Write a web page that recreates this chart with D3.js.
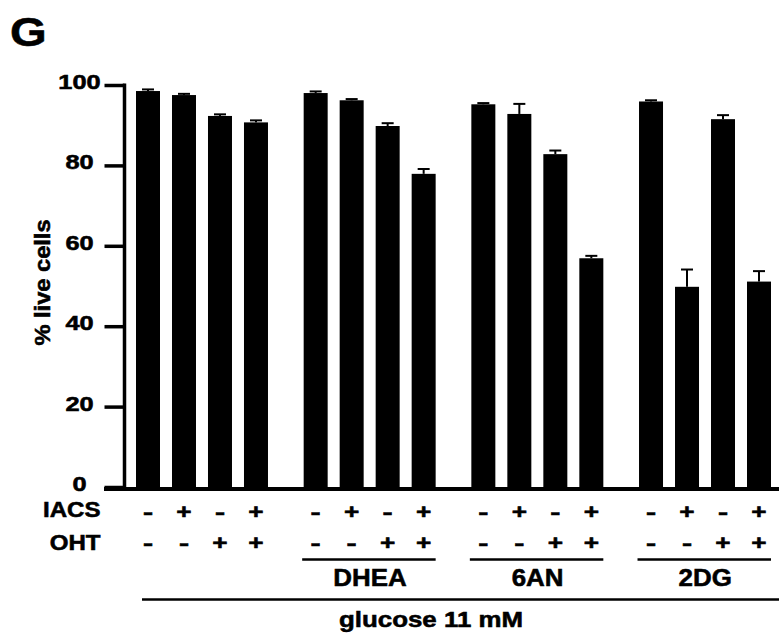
<!DOCTYPE html>
<html>
<head>
<meta charset="utf-8">
<script src="https://cdn.jsdelivr.net/npm/d3@7"></script>
<style>
  html, body { margin: 0; padding: 0; background: #fff; }
  svg { display: block; }
  text { font-family: 'Liberation Sans', Arial, Helvetica, sans-serif; font-weight: bold; fill: #000; stroke: #000; stroke-width: 0.55px; }
</style>
</head>
<body>
<svg id="chart" width="779" height="636"></svg>
<script>
// ---- data ----
const groups = ["none", "DHEA", "6AN", "2DG"];
const groupLabels = ["", "DHEA", "6AN", "2DG"];
const conditions = ["c1", "c2", "c3", "c4"];
const iacsSigns = ["-", "+", "-", "+"];
const ohtSigns = ["-", "-", "+", "+"];
const meansNone = [98.5, 97.5, 92.3, 90.7];
const meansDHEA = [98.0, 96.2, 89.8, 77.9];
const means6AN = [95.2, 92.8, 82.8, 56.9];
const means2DG = [95.9, 49.8, 91.5, 51.1];
const errNone = [0.4, 0.3, 0.4, 0.5];
const errDHEA = [0.4, 0.3, 0.7, 1.2];
const err6AN = [0.3, 2.5, 0.9, 0.6];
const err2DG = [0.3, 4.3, 1.0, 2.6];
const yTicks = [0, 20, 40, 60, 80, 100];
const yLabel = "% live cells";
const panelLabel = "G";
const footLabel = "glucose 11 mM";

const meansByGroup = [meansNone, meansDHEA, means6AN, means2DG];
const errByGroup = [errNone, errDHEA, err6AN, err2DG];
const rows = [];
groups.forEach((g, gi) => conditions.forEach((c, ci) => {
  rows.push({ g, c, gi, ci, v: meansByGroup[gi][ci], e: errByGroup[gi][ci] });
}));

// ---- scales ----
const svg = d3.select("#chart");
const W = 779;
const x0 = d3.scaleBand().domain(groups).range([130, 777]).paddingInner(0.1413).paddingOuter(0);
const x1 = d3.scaleBand().domain(conditions).range([0, x0.bandwidth()]).paddingInner(1 / 3).paddingOuter(1 / 6);
const y = d3.scaleLinear().domain([0, 100]).range([487, 85]);
const cx = d => x0(d.g) + x1(d.c) + x1.bandwidth() / 2;

function txt(x, yy, s, size, anchor, sx, rot) {
  return svg.append("text")
    .attr("transform", `translate(${x},${yy})` + (rot ? ` rotate(${rot})` : "") + ` scale(${sx},1)`)
    .attr("text-anchor", anchor)
    .style("font-size", size + "px")
    .text(s);
}

// ---- bars ----
svg.append("g").selectAll("rect").data(rows).join("rect")
  .attr("x", d => x0(d.g) + x1(d.c))
  .attr("width", x1.bandwidth())
  .attr("y", d => y(d.v))
  .attr("height", d => y(0) - y(d.v))
  .attr("fill", "#000");

// ---- error bars ----
const eb = svg.append("g").attr("stroke", "#000").attr("stroke-width", 2);
eb.selectAll("line.stem").data(rows).join("line").attr("class", "stem")
  .attr("x1", cx).attr("x2", cx)
  .attr("y1", d => y(d.v)).attr("y2", d => y(d.v + d.e));
eb.selectAll("line.cap").data(rows).join("line").attr("class", "cap")
  .attr("x1", d => cx(d) - 6).attr("x2", d => cx(d) + 6)
  .attr("y1", d => y(d.v + d.e)).attr("y2", d => y(d.v + d.e));

// ---- y axis ----
const yAxis = svg.append("g").attr("transform", "translate(124.5,0)")
  .call(d3.axisLeft(y).tickValues(yTicks).tickSize(20).tickFormat(""));
yAxis.select(".domain").remove();
yAxis.selectAll(".tick line").attr("stroke", "#000").attr("stroke-width", 3.5);
svg.append("line").attr("x1", 124.5).attr("x2", 124.5)
  .attr("y1", y(100) - 1.5).attr("y2", 491)
  .attr("stroke", "#000").attr("stroke-width", 3.5);
yTicks.forEach(t => txt(79.5, y(t) + 4, String(t), 19.5, "middle", 1.3));

// ---- x axis baseline ----
svg.append("line").attr("x1", 104).attr("x2", W)
  .attr("y1", 489).attr("y2", 489)
  .attr("stroke", "#000").attr("stroke-width", 4);

// ---- treatment rows ----
txt(100.5, 517, "IACS", 21.5, "end", 1.12);
txt(100.5, 550, "OHT", 21.5, "end", 1.12);
rows.forEach(d => {
  txt(cx(d), 519, iacsSigns[d.ci], 21, "middle", iacsSigns[d.ci] === "-" ? 1.45 : 1.25);
  txt(cx(d), 550, ohtSigns[d.ci], 21, "middle", ohtSigns[d.ci] === "-" ? 1.45 : 1.25);
});

// ---- group brackets ----
groups.forEach((g, gi) => {
  if (!groupLabels[gi]) return;
  const a = x0(g) + x1(conditions[0]) - 1.5;
  const b = x0(g) + x1(conditions[3]) + x1.bandwidth();
  svg.append("line").attr("x1", a).attr("x2", b).attr("y1", 559.5).attr("y2", 559.5)
    .attr("stroke", "#000").attr("stroke-width", 2.5);
  txt((a + b) / 2 + 1, 586, groupLabels[gi], 24, "middle", 1.08);
});

// ---- glucose bracket ----
const gStart = x0(groups[0]) + x1(conditions[0]) + 6;
svg.append("line").attr("x1", gStart).attr("x2", W).attr("y1", 599.5).attr("y2", 599.5)
  .attr("stroke", "#000").attr("stroke-width", 2.5);
txt(431, 626.5, footLabel, 22.5, "middle", 1.15);

// ---- y label & panel letter ----
txt(50, 282.5, yLabel, 21.5, "middle", 1.1, -90);
txt(10, 46, panelLabel, 41, "start", 1.15);
</script>
</body>
</html>
